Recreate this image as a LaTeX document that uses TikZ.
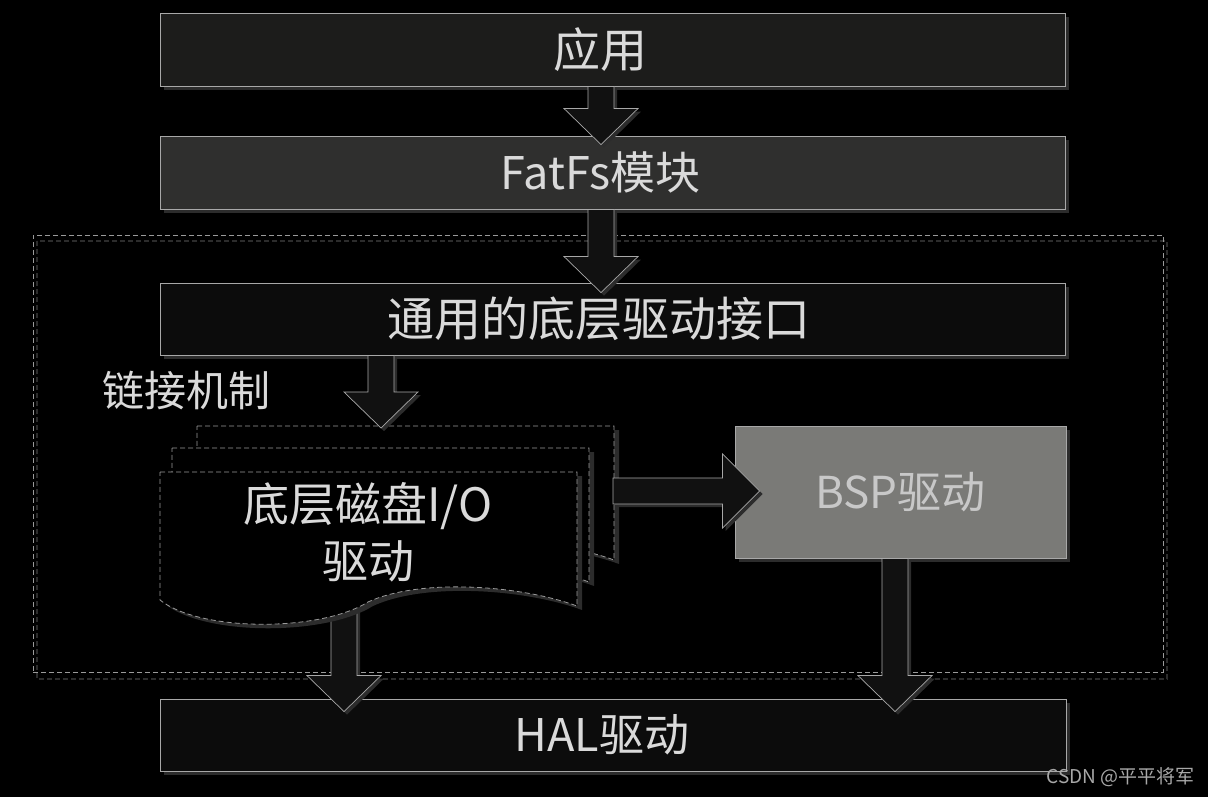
\documentclass[tikz,border=0pt]{standalone}
\usepackage{fontspec}
\setmainfont{Noto Sans CJK SC}
\usetikzlibrary{calc,shadows}
\definecolor{bordc}{HTML}{A8A8A8}
\definecolor{txtc}{HTML}{DADADA}
\definecolor{shc}{HTML}{2C2C2C}
\definecolor{arrc}{HTML}{111111}
\definecolor{appc}{HTML}{1C1C1B}
\definecolor{fatc}{HTML}{2F2F2E}
\definecolor{darkc}{HTML}{0C0C0C}
\definecolor{bspc}{HTML}{7A7A77}
\definecolor{bsptxt}{HTML}{C8C8C8}
\definecolor{dashc}{HTML}{9A9A9A}
\tikzset{
  shad/.style={drop shadow={shadow xshift=4pt, shadow yshift=-4pt, fill=shc, opacity=1}},
  box/.style={draw=bordc, line width=0.9pt, minimum width=905pt, minimum height=73pt, inner sep=0pt, shad},
  lbl/.style={text=txtc, font=\fontsize{45}{50}\selectfont, inner sep=0pt},
  blk/.style={draw=bordc, line width=0.7pt, fill=arrc, drop shadow={shadow xshift=3pt, shadow yshift=-3pt, fill=shc, opacity=1}},
  docshape/.style={draw=dashc, line width=0.8pt, dash pattern=on 5pt off 3pt, fill=black,
    drop shadow={shadow xshift=5pt, shadow yshift=-4pt, fill=shc, opacity=1}},
}
\newcommand\blockdown[2]{\draw[blk] let \p1=(#1), \p2=(#2) in
  (\x1-13pt,\y1) -- (\x1+13pt,\y1) -- (\x1+13pt,\y2+36pt) -- (\x1+37pt,\y2+36pt) --
  (\x1,\y2) -- (\x1-37pt,\y2+36pt) -- (\x1-13pt,\y2+36pt) -- cycle;}
\newcommand\blockright[2]{\draw[blk] let \p1=(#1), \p2=(#2) in
  (\x1,\y1+13pt) -- (\x2-37pt,\y1+13pt) -- (\x2-37pt,\y1+37pt) -- (\x2,\y1) --
  (\x2-37pt,\y1-37pt) -- (\x2-37pt,\y1-13pt) -- (\x1,\y1-13pt) -- cycle;}
\newcommand\docpath{(160,472) -- (577,472) -- (577,606)
  .. controls (520,585) and (420,578) .. (368,602)
  .. controls (320,632) and (200,632) .. (160,600) -- cycle}
\begin{document}
\begin{tikzpicture}[x=1pt,y=-1pt]
\fill[black] (0,0) rectangle (1208,797);
\useasboundingbox (0,0) rectangle (1208,797);

% outer dashed region
\draw[shc, line width=1.6pt, dash pattern=on 5pt off 3pt] (37,241) rectangle (1167,679);
\node[draw=dashc, line width=0.8pt, dash pattern=on 5pt off 3pt, minimum width=1130pt,
  minimum height=437pt, inner sep=0pt] (outer) at (598,453.5) {};

% boxes
\node[box, fill=appc, label={[lbl, font=\fontsize{47}{50}\selectfont, xshift=-12pt]center:应用}] (app) at (612.5,49.5) {};
\node[box, fill=fatc, label={[lbl, xshift=-12pt]center:FatFs模块}] (fat) at (612.5,172.5) {};
\node[box, fill=darkc, minimum height=72pt, label={[lbl, font=\fontsize{47}{50}\selectfont, xshift=-14pt]center:通用的底层驱动接口}] (gen) at (612.5,319) {};
\node[box, fill=darkc, minimum width=906pt, minimum height=72pt, label={[lbl, xshift=-11pt]center:HAL驱动}] (hal) at (613,735) {};
\node[box, fill=bspc, minimum width=331pt, minimum height=132pt] (bsp) at (900.5,492) {};
\node[text=bsptxt, font=\fontsize{44}{50}\selectfont, inner sep=0pt] (bspt) at (bsp.center) {BSP驱动};

\node[text=txtc, font=\fontsize{42}{46}\selectfont, inner sep=0pt] (link) at (186,391) {链接机制};

% axes for arrows
\coordinate (ax) at (601,0);
\coordinate (lx) at (381,0);
\coordinate (dx) at (344,0);
\coordinate (bx) at (895,0);

% arrow from disk driver to HAL (under documents)
\coordinate (diskbot) at (344,600);
\blockdown{diskbot}{$(hal.north -| dx)+(0,13)$}

% stacked documents
\begin{scope}[shift={(37,-46)}]
  \path[docshape] \docpath;
\end{scope}
\begin{scope}[shift={(12,-24)}]
  \path[docshape] \docpath;
\end{scope}
\path[docshape] \docpath;
\node[lbl, align=center, font=\fontsize{46}{57}\selectfont] (disk) at (368,532) {底层磁盘I/O\\驱动};
\coordinate (docright) at (613,491);

% arrows
\blockdown{app.south -| ax}{$(fat.north -| ax)+(0,9)$}
\blockdown{fat.south -| ax}{$(gen.north -| ax)+(0,10)$}
\blockdown{gen.south -| lx}{$(lx |- 0,428)$}
\blockright{docright}{$(bsp.west |- docright)+(25,0)$}
\blockdown{bsp.south -| bx}{$(hal.north -| bx)+(0,13)$}

% watermark
\node[text=bordc, font=\fontsize{19}{22}\selectfont, anchor=east, inner sep=0pt] (wm) at (1195,777) {CSDN @平平将军};
\end{tikzpicture}
\end{document}
